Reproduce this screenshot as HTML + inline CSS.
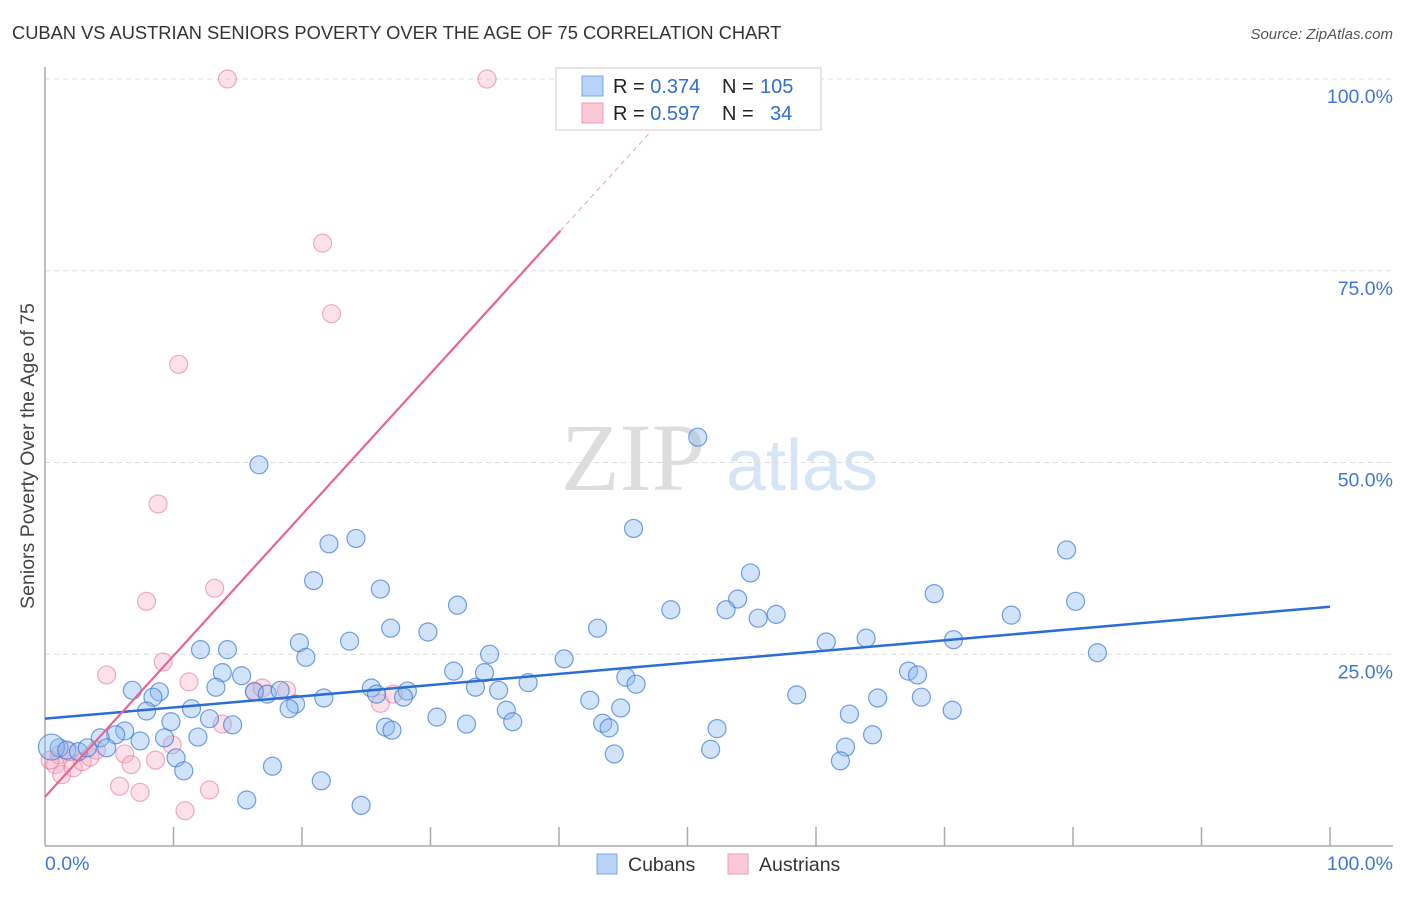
<!DOCTYPE html>
<html><head><meta charset="utf-8"><style>
body{margin:0;background:#fff;font-family:"Liberation Sans",sans-serif;}
svg text{font-family:"Liberation Sans",sans-serif;}
</style></head><body>
<svg id="c" width="1406" height="892" xmlns="http://www.w3.org/2000/svg">
<text x="12" y="39" font-size="18.3" fill="#333">CUBAN VS AUSTRIAN SENIORS POVERTY OVER THE AGE OF 75 CORRELATION CHART</text>
<text x="1393" y="39" font-size="15" fill="#555" font-style="italic" text-anchor="end">Source: ZipAtlas.com</text>
<text transform="translate(34,456) rotate(-90)" font-size="19.5" fill="#444" text-anchor="middle">Seniors Poverty Over the Age of 75</text>
<g>
<text x="633" y="490" font-size="96" fill="#ddd" font-family="Liberation Serif" text-anchor="middle" style="font-family:'Liberation Serif',serif">ZIP</text>
<text x="802" y="490" font-size="72" fill="#d6e4f5" text-anchor="middle">atlas</text>
</g>
<g id="grid"></g><g id="axes"></g><g id="pts"></g><g id="lines"></g>
<g>
<rect x="556" y="68" width="265" height="62" fill="#fff" stroke="#ddd" stroke-width="1.5"/>
<rect x="582" y="76" width="21" height="20" fill="#b8d3f5" stroke="#7aa8e6"/>
<rect x="582" y="103" width="21" height="20" fill="#fbc8d8" stroke="#f09ab5"/>
<text x="613" y="93" font-size="20" fill="#222">R = <tspan fill="#2f6fd0">0.374</tspan><tspan x="722">N = </tspan><tspan x="760" fill="#2f6fd0">105</tspan></text>
<text x="613" y="120" font-size="20" fill="#222">R = <tspan fill="#2f6fd0">0.597</tspan><tspan x="722">N = </tspan><tspan x="770" fill="#2f6fd0">34</tspan></text>
</g>
<g>
<rect x="597" y="854" width="20" height="20" fill="#b8d3f5" stroke="#7aa8e6"/>
<text x="628" y="871" font-size="19.5" fill="#333">Cubans</text>
<rect x="728" y="854" width="20" height="20" fill="#fbc8d8" stroke="#f09ab5"/>
<text x="759" y="871" font-size="19.5" fill="#333">Austrians</text>
</g>
</svg>
<script>
const yTicks=[25,50,75,100];
const yTickLabels=["25.0%","50.0%","75.0%","100.0%"];
const xTicks=[10,20,30,40,50,60,70,80,90,100];
const cubanX=[16.65,50.8,45.8,24.2,22.1,79.5,20.9,26.1,54.9,32.1,53.9,80.2,69.2,48.7,53.0,55.5,56.9,75.2,26.9,29.8,43.0,19.8,23.7,60.8,63.9,70.7,12.1,14.2,20.3,34.6,40.4,81.9,13.8,15.3,31.8,34.2,67.2,67.9,45.2,46.0,37.6,33.5,35.3,6.8,8.9,8.4,13.3,16.3,17.3,18.3,25.4,25.8,28.2,27.9,21.7,58.5,64.8,68.2,42.4,19.5,19.0,7.9,11.4,35.9,44.8,70.6,62.6,9.8,12.8,14.6,30.5,32.8,36.4,26.5,27.0,43.4,43.9,52.3,6.2,5.5,4.3,7.4,9.3,11.9,64.4,62.3,51.8,44.3,1.1,0.5,1.7,2.6,3.3,4.8,10.2,61.9,17.7,10.8,21.5,15.7,24.6];
const cubanY=[49.7,53.3,41.4,40.1,39.4,38.6,34.6,33.5,35.6,31.4,32.2,31.9,32.9,30.8,30.8,29.7,30.2,30.1,28.4,27.9,28.4,26.5,26.7,26.6,27.1,26.9,25.6,25.6,24.6,25.0,24.4,25.2,22.6,22.2,22.8,22.6,22.8,22.3,22.0,21.1,21.3,20.7,20.3,20.3,20.1,19.4,20.7,20.1,19.8,20.3,20.6,19.8,20.2,19.4,19.3,19.7,19.3,19.4,19.0,18.5,17.9,17.6,17.9,17.7,18.0,17.7,17.2,16.2,16.6,15.8,16.8,15.9,16.2,15.5,15.1,16.0,15.4,15.3,15.0,14.5,14.1,13.7,14.1,14.2,14.5,12.9,12.6,12.0,12.8,12.9,12.5,12.3,12.8,12.8,11.5,11.1,10.4,9.8,8.5,6.0,5.3];
const austrianX=[14.2,34.4,21.6,22.3,10.4,8.8,13.2,7.9,9.2,4.8,11.2,16.3,18.8,26.1,13.8,9.9,6.2,6.7,8.6,5.8,7.4,12.8,10.9,1.1,0.8,1.3,2.2,2.9,3.5,4.0,1.9,0.4,27.1,16.9];
const austrianY=[100,100,78.6,69.4,62.8,44.6,33.6,31.9,24.0,22.3,21.4,20.2,20.3,18.6,15.9,13.2,12.0,10.6,11.2,7.8,7.0,7.3,4.6,11.9,10.6,9.3,10.2,11.0,11.6,12.5,12.3,11.2,19.8,20.6];
const cubanLine=[16.6,31.2];
const austrianLine={x0:0,y0:6.4,slope:1.84,solidEnd:40.1,dashEnd:47};
const X0=45,X1=1330,Y0=846,Y1=79;
const sx=v=>X0+(X1-X0)*v/100, sy=v=>Y0-(Y0-Y1)*v/100;
const NS="http://www.w3.org/2000/svg";
function mk(t,a,p){const e=document.createElementNS(NS,t);for(const k in a)e.setAttribute(k,a[k]);p.appendChild(e);return e;}
const grid=document.getElementById('grid'),axes=document.getElementById('axes'),pts=document.getElementById('pts'),lines=document.getElementById('lines');
yTicks.forEach((t,i)=>{
 const l=mk('line',{x1:X0,x2:1393,y1:sy(t),y2:sy(t),stroke:'#ddd','stroke-dasharray':'5,4'},grid);
 
 
 const tx=mk('text',{x:1393,y:sy(t)+24,'font-size':19.5,fill:'#3d78d8','text-anchor':'end'},grid);
 tx.textContent=yTickLabels[i];
 
 
});
const ya=mk('line',{x1:X0,x2:X0,y1:67,y2:Y0,stroke:'#aaa','stroke-width':1.5},axes);


const xa=mk('line',{x1:X0,x2:1393,y1:Y0,y2:Y0,stroke:'#aaa','stroke-width':1.5},axes);


xTicks.forEach(t=>{const l=mk('line',{x1:sx(t),x2:sx(t),y1:827,y2:Y0,stroke:'#aaa','stroke-width':1.5},axes);
 
 });
const xl0=mk('text',{x:45,y:870,'font-size':19.5,fill:'#3d78d8'},axes);xl0.textContent='0.0%';


const xl1=mk('text',{x:1393,y:870,'font-size':19.5,fill:'#3d78d8','text-anchor':'end'},axes);xl1.textContent='100.0%';


austrianX.forEach((v,i)=>{const c=mk('circle',{cx:sx(v),cy:sy(austrianY[i]),r:9,fill:'rgba(247,168,194,0.35)',stroke:'rgba(232,120,155,0.6)','stroke-width':1.2},pts);
 
 });
cubanX.forEach((v,i)=>{const c=mk('circle',{cx:sx(v),cy:sy(cubanY[i]),r:i==89?13:9,fill:'rgba(140,185,240,0.4)',stroke:'rgba(60,120,210,0.7)','stroke-width':1.2},pts);
 
 });
const bl=mk('line',{x1:sx(0),y1:sy(cubanLine[0]),x2:sx(100),y2:sy(cubanLine[1]),stroke:'#2a6dd6','stroke-width':2.5},lines);


const A=austrianLine,ay=x=>A.y0+A.slope*(x-A.x0);
const pl=mk('line',{x1:sx(A.x0),y1:sy(ay(A.x0)),x2:sx(A.solidEnd),y2:sy(ay(A.solidEnd)),stroke:'#e8658f','stroke-width':2.2},lines);


const pd=mk('line',{x1:sx(A.solidEnd),y1:sy(ay(A.solidEnd)),x2:sx(A.dashEnd),y2:sy(ay(A.dashEnd)),stroke:'#e8a0b8','stroke-width':1,'stroke-dasharray':'5,4'},lines);


</script>
</body></html>
